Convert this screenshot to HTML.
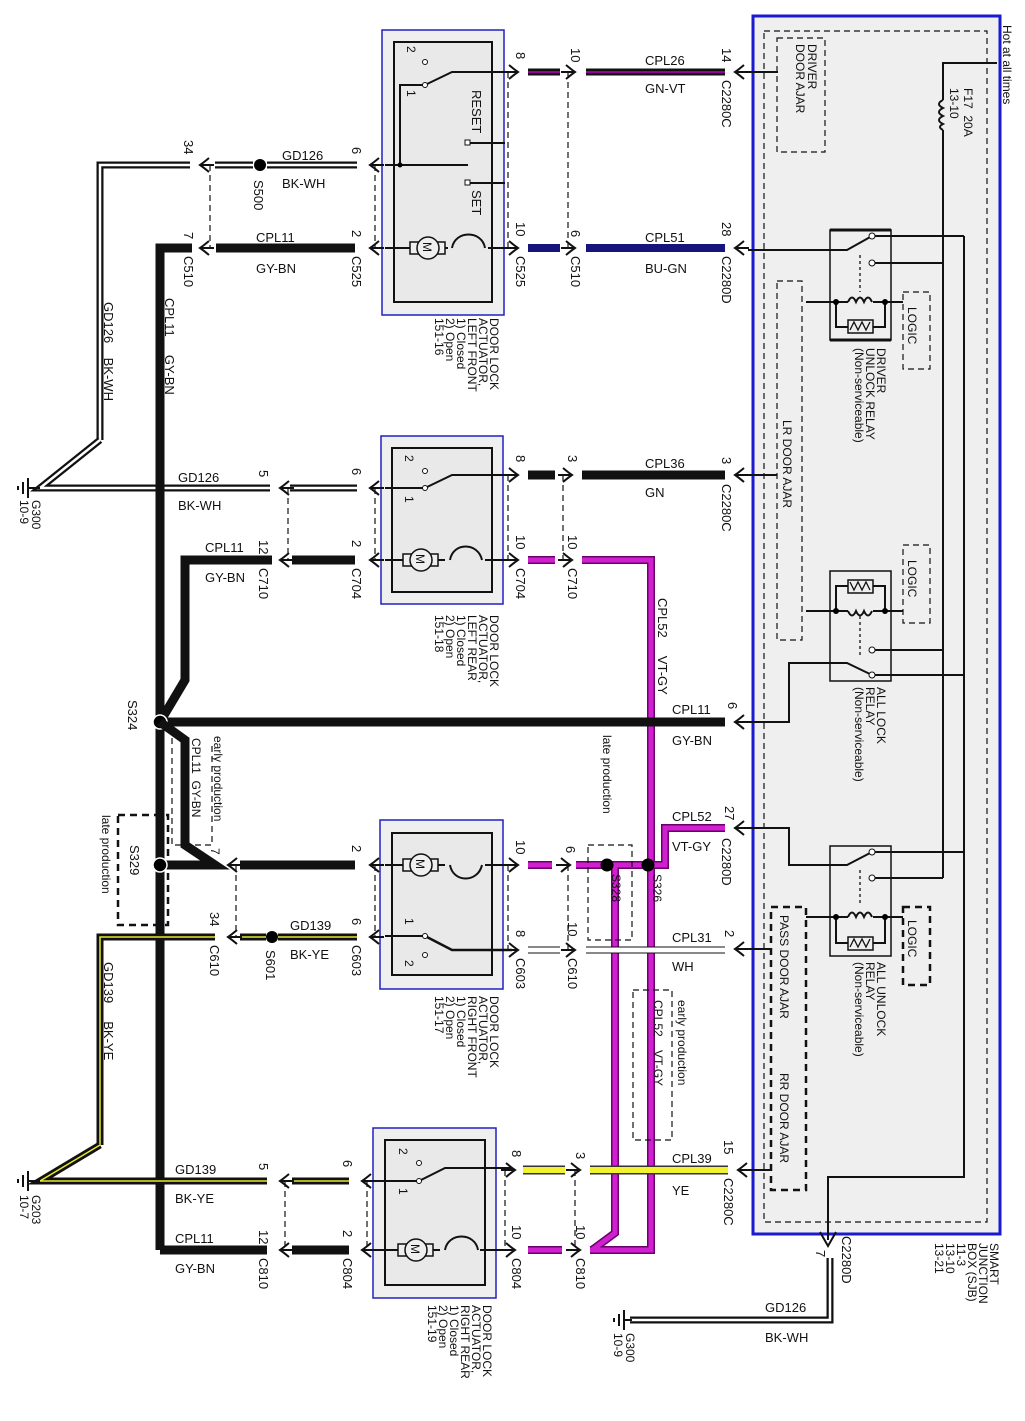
<!DOCTYPE html>
<html><head><meta charset="utf-8"><style>
html,body{margin:0;padding:0;background:#fff}
svg{display:block}
text{font-family:"Liberation Sans",Arial,sans-serif;font-size:13px;fill:#111}
.s{font-size:12px}
.t{fill:none;stroke:#111;stroke-width:2}
.tn{fill:none;stroke:#111;stroke-width:1.3}
.k{fill:none;stroke:#111;stroke-width:9}
.ko{fill:none;stroke:#111;stroke-width:7}
.wi{fill:none;stroke:#fff;stroke-width:2.5}
.yi{fill:none;stroke:#e8e830;stroke-width:1.5}
.mo{fill:none;stroke:#6a006a;stroke-width:8}
.mi{fill:none;stroke:#d020d0;stroke-width:5}
.bu{fill:none;stroke:#16167a;stroke-width:8}
.vi{fill:none;stroke:#c000c0;stroke-width:1.5}
.yo{fill:none;stroke:#333;stroke-width:9}
.yy{fill:none;stroke:#f2f230;stroke-width:6}
.wh{fill:none;stroke:#fff;stroke-width:5}
.d{fill:none;stroke:#111;stroke-width:1.2;stroke-dasharray:6 4}
.dd{fill:none;stroke:#111;stroke-width:2.5;stroke-dasharray:7 5}
</style></head><body>
<svg width="1025" height="1421" viewBox="0 0 1025 1421" xmlns="http://www.w3.org/2000/svg">
<defs>
<g id="L"><path d="M9,-7 Q3,-2 0,0 Q3,2 9,7 M0,0 H14" fill="none" stroke="#111" stroke-width="2"/></g>
<g id="R"><path d="M-9,-7 Q-3,-2 0,0 Q-3,2 -9,7 M0,0 H-14" fill="none" stroke="#111" stroke-width="2"/></g>
</defs>

<!-- SJB -->
<rect x="753" y="16" width="247" height="1218" fill="#efefef" stroke="#1a1ad0" stroke-width="3"/>
<rect x="764" y="31" width="223" height="1191" class="d"/>
<rect x="777" y="38" width="48" height="114" class="d" stroke-width="1.8"/>
<text class="s" transform="translate(808,44) rotate(90)"><tspan x="0" dy="0">DRIVER</tspan><tspan x="0" dy="12">DOOR AJAR</tspan></text>
<text class="s" transform="translate(1003,25) rotate(90)">Hot at all times</text>
<path class="t" d="M997,63 H943 V100 M943,130 V878"/>
<path class="t" d="M943,100 q-8,4 0,8 q-8,4 0,8 q-8,4 0,8 q-6,3 0,6"/>
<text class="s" transform="translate(964,88) rotate(90)">F17&#160;&#160;20A</text>
<text class="s" transform="translate(950,88) rotate(90)">13-10</text>
<path class="t" d="M964,236 V1177 H828 V1240"/>
<!-- driver unlock relay -->
<rect x="830" y="230" width="61" height="110" fill="none" stroke="#111" stroke-width="1.5"/>
<path d="M830,230 H891 M830,340 H891" stroke="#111" stroke-width="3"/>
<path class="t" d="M748,250 H847 L872,236 H964 M872,263 H943 M806,302 H903"/>
<path class="tn" d="M860,255 V292" stroke-dasharray="3 3"/>
<path class="t" d="M836,302 V327 H885 V302"/>
<rect x="848" y="296" width="25" height="10" fill="#efefef"/>
<path class="t" d="M848,302 q4,-9 8,0 q4,-9 8,0 q4,-9 8,0"/>
<rect x="848" y="320" width="25" height="13" fill="#efefef" stroke="#111" stroke-width="1.5"/>
<path class="tn" d="M850,330 l4,-8 l4,8 l4,-8 l4,8 l4,-8"/>
<circle cx="836" cy="302" r="3"/><circle cx="885" cy="302" r="3"/>
<circle cx="872" cy="236" r="3" fill="#fff" stroke="#111"/><circle cx="872" cy="263" r="3" fill="#fff" stroke="#111"/>
<rect x="903" y="292" width="27" height="77" class="d" stroke-width="1.8"/>
<text class="s" transform="translate(908,307) rotate(90)">LOGIC</text>
<text class="s" transform="translate(877,348) rotate(90)"><tspan x="0" dy="0">DRIVER</tspan><tspan x="0" dy="11">UNLOCK RELAY</tspan><tspan x="0" dy="11">(Non-serviceable)</tspan></text>
<!-- LR door ajar -->
<rect x="777" y="281" width="25" height="359" class="d" stroke-width="1.8"/>
<path class="t" d="M748,475 H777"/>
<text class="s" transform="translate(783,420) rotate(90)">LR DOOR AJAR</text>
<!-- all lock relay -->
<rect x="830" y="571" width="61" height="110" fill="none" stroke="#111" stroke-width="1.5"/>
<path class="t" d="M806,611 H903 M836,611 V586 H885 V611"/>
<rect x="848" y="606" width="25" height="10" fill="#efefef"/>
<path class="t" d="M848,611 q4,9 8,0 q4,9 8,0 q4,9 8,0"/>
<rect x="848" y="580" width="25" height="13" fill="#efefef" stroke="#111" stroke-width="1.5"/>
<path class="tn" d="M850,582 l4,8 l4,-8 l4,8 l4,-8 l4,8"/>
<circle cx="836" cy="611" r="3"/><circle cx="885" cy="611" r="3"/>
<path class="tn" d="M860,616 V655" stroke-dasharray="3 3"/>
<path class="t" d="M872,650 H943 M872,675 H964 M872,675 L847,663 H789 V722 H748"/>
<circle cx="872" cy="650" r="3" fill="#fff" stroke="#111"/><circle cx="872" cy="675" r="3" fill="#fff" stroke="#111"/>
<rect x="903" y="545" width="27" height="78" class="d" stroke-width="1.8"/>
<text class="s" transform="translate(908,560) rotate(90)">LOGIC</text>
<text class="s" transform="translate(877,687) rotate(90)"><tspan x="0" dy="0">ALL LOCK</tspan><tspan x="0" dy="11">RELAY</tspan><tspan x="0" dy="11">(Non-serviceable)</tspan></text>
<!-- all unlock relay -->
<rect x="830" y="846" width="61" height="110" fill="none" stroke="#111" stroke-width="1.5"/>
<path class="t" d="M748,828 H789 V865 H847 L872,852 H964 M872,878 H943 M806,917 H903 M836,917 V943 H885 V917"/>
<path class="tn" d="M860,870 V905" stroke-dasharray="3 3"/>
<rect x="848" y="912" width="25" height="10" fill="#efefef"/>
<path class="t" d="M848,917 q4,-9 8,0 q4,-9 8,0 q4,-9 8,0"/>
<rect x="848" y="937" width="25" height="13" fill="#efefef" stroke="#111" stroke-width="1.5"/>
<path class="tn" d="M850,947 l4,-8 l4,8 l4,-8 l4,8 l4,-8"/>
<circle cx="836" cy="917" r="3"/><circle cx="885" cy="917" r="3"/>
<circle cx="872" cy="852" r="3" fill="#fff" stroke="#111"/><circle cx="872" cy="878" r="3" fill="#fff" stroke="#111"/>
<rect x="903" y="907" width="27" height="78" class="dd"/>
<text class="s" transform="translate(908,920) rotate(90)">LOGIC</text>
<text class="s" transform="translate(877,962) rotate(90)"><tspan x="0" dy="0">ALL UNLOCK</tspan><tspan x="0" dy="11">RELAY</tspan><tspan x="0" dy="11">(Non-serviceable)</tspan></text>
<rect x="771" y="907" width="35" height="283" class="dd"/>
<path class="t" d="M748,949 H771 M748,1170 H771"/>
<text class="s" transform="translate(780,915) rotate(90)">PASS DOOR AJAR</text>
<text class="s" transform="translate(780,1073) rotate(90)">RR DOOR AJAR</text>
<text class="s" transform="translate(990,1243) rotate(90)"><tspan x="0" dy="0">SMART</tspan><tspan x="0" dy="11">JUNCTION</tspan><tspan x="0" dy="11">BOX (SJB)</tspan><tspan x="0" dy="11">11-3</tspan><tspan x="0" dy="11">13-10</tspan><tspan x="0" dy="11">13-21</tspan></text>

<!-- actuator boxes -->
<rect x="382" y="30" width="122" height="285" fill="#efefef" stroke="#2020c0" stroke-width="1.5"/>
<rect x="394" y="42" width="98" height="260" fill="#e9e9e9" stroke="#111" stroke-width="2"/>
<rect x="381" y="436" width="122" height="168" fill="#efefef" stroke="#2020c0" stroke-width="1.5"/>
<rect x="392" y="448" width="100" height="144" fill="#e9e9e9" stroke="#111" stroke-width="2"/>
<rect x="380" y="820" width="123" height="169" fill="#efefef" stroke="#2020c0" stroke-width="1.5"/>
<rect x="392" y="833" width="100" height="142" fill="#e9e9e9" stroke="#111" stroke-width="2"/>
<rect x="373" y="1128" width="123" height="170" fill="#efefef" stroke="#2020c0" stroke-width="1.5"/>
<rect x="385" y="1140" width="100" height="145" fill="#e9e9e9" stroke="#111" stroke-width="2"/>

<text class="s" transform="translate(490,318) rotate(90)"><tspan x="0" dy="0">DOOR LOCK</tspan><tspan x="0" dy="11">ACTUATOR,</tspan><tspan x="0" dy="11">LEFT FRONT</tspan><tspan x="0" dy="11">1) Closed</tspan><tspan x="0" dy="11">2) Open</tspan><tspan x="0" dy="11">151-16</tspan></text>
<text class="s" transform="translate(490,615) rotate(90)"><tspan x="0" dy="0">DOOR LOCK</tspan><tspan x="0" dy="11">ACTUATOR,</tspan><tspan x="0" dy="11">LEFT REAR</tspan><tspan x="0" dy="11">1) Closed</tspan><tspan x="0" dy="11">2) Open</tspan><tspan x="0" dy="11">151-18</tspan></text>
<text class="s" transform="translate(490,996) rotate(90)"><tspan x="0" dy="0">DOOR LOCK</tspan><tspan x="0" dy="11">ACTUATOR,</tspan><tspan x="0" dy="11">RIGHT FRONT</tspan><tspan x="0" dy="11">1) Closed</tspan><tspan x="0" dy="11">2) Open</tspan><tspan x="0" dy="11">151-17</tspan></text>
<text class="s" transform="translate(483,1305) rotate(90)"><tspan x="0" dy="0">DOOR LOCK</tspan><tspan x="0" dy="11">ACTUATOR,</tspan><tspan x="0" dy="11">RIGHT REAR</tspan><tspan x="0" dy="11">1) Closed</tspan><tspan x="0" dy="11">2) Open</tspan><tspan x="0" dy="11">151-19</tspan></text>

<!-- dashed connector pair lines -->
<path class="d" d="M210,165 V248 M375,165 V248 M508,72 V248 M568,72 V248 M288,488 V560 M375,488 V560 M508,475 V560 M563,475 V560 M236,865 V937 M375,865 V937 M508,865 V950 M568,865 V950 M285,1181 V1250 M367,1181 V1250 M505,1170 V1250 M575,1170 V1250"/>

<!-- ===== LF ===== -->
<path class="t" d="M425,85 H400 V165 M425,85 L452,72 H515 M468,143 H505 M468,183 H505 M385,165 H468 M385,248 H515"/>
<circle cx="425" cy="62" r="2.5" fill="#fff" stroke="#111"/><circle cx="425" cy="85" r="2.5" fill="#fff" stroke="#111"/>
<rect x="465" y="140" width="5" height="5" fill="#fff" stroke="#111"/><rect x="465" y="180" width="5" height="5" fill="#fff" stroke="#111"/>
<circle cx="400" cy="165" r="2.5"/>
<text class="s" transform="translate(407,46) rotate(90)">2</text>
<text class="s" transform="translate(407,90) rotate(90)">1</text>
<text transform="translate(472,90) rotate(90)">RESET</text>
<text transform="translate(472,190) rotate(90)">SET</text>
<rect x="410" y="242" width="35" height="12" fill="#efefef" stroke="#111" stroke-width="1.5"/>
<circle cx="428" cy="248" r="11" fill="#efefef" stroke="#111" stroke-width="1.5"/>
<text class="s" transform="translate(423,242) rotate(90)">M</text>
<rect x="448" y="238" width="40" height="12" fill="#e9e9e9"/>
<path class="t" d="M452,248 C455,230 482,230 485,248"/>
<!-- row B -->
<path class="ko" d="M100,440 V165 H190 M215,165 H253 M267,165 H357"/>
<path class="wi" d="M100,440 V165 H190 M215,165 H253 M267,165 H357"/>
<path class="ko" d="M100,440 L40,488 H270 M290,488 H357"/>
<path class="wi" d="M100,440 L40,488 H270 M290,488 H357"/>
<circle cx="260" cy="165" r="6"/>
<use href="#L" x="200" y="165"/><use href="#L" x="370" y="165"/>
<text x="282" y="160">GD126</text><text x="282" y="188">BK-WH</text>
<text transform="translate(254,180) rotate(90)">S500</text>
<text transform="translate(184,140) rotate(90)">34</text>
<text transform="translate(352,147) rotate(90)">6</text>
<text transform="translate(104,302) rotate(90)">GD126&#160;&#160;&#160;&#160;BK-WH</text>
<!-- row C -->
<path class="k" d="M160,1250 V248 H192 M216,248 H355"/>
<use href="#L" x="200" y="248"/><use href="#L" x="370" y="248"/>
<text x="256" y="242">CPL11</text><text x="256" y="273">GY-BN</text>
<text transform="translate(184,232) rotate(90)">7</text>
<text transform="translate(184,256) rotate(90)">C510</text>
<text transform="translate(352,230) rotate(90)">2</text>
<text transform="translate(352,256) rotate(90)">C525</text>
<text transform="translate(165,298) rotate(90)">CPL11&#160;&#160;&#160;&#160;&#160;GY-BN</text>
<!-- right side A -->
<use href="#R" x="518" y="72"/><use href="#R" x="575" y="72"/><use href="#L" x="735" y="72"/>
<path class="t" d="M740,72 H778"/>
<path class="ko" d="M528,72 H560 M586,72 H725" stroke-width="8"/><path class="vi" d="M528,72 H560 M586,72 H725"/>
<text transform="translate(516,52) rotate(90)">8</text>
<text transform="translate(571,48) rotate(90)">10</text>
<text x="645" y="65">CPL26</text><text x="645" y="93">GN-VT</text>
<text transform="translate(722,48) rotate(90)">14</text>
<text transform="translate(722,80) rotate(90)">C2280C</text>
<!-- right C -->
<use href="#R" x="518" y="248"/><use href="#R" x="575" y="248"/><use href="#L" x="735" y="248"/>
<path class="bu" d="M528,248 H560 M586,248 H725"/>
<text transform="translate(516,222) rotate(90)">10</text>
<text transform="translate(516,256) rotate(90)">C525</text>
<text transform="translate(571,230) rotate(90)">6</text>
<text transform="translate(571,256) rotate(90)">C510</text>
<text x="645" y="242">CPL51</text><text x="645" y="273">BU-GN</text>
<text transform="translate(722,222) rotate(90)">28</text>
<text transform="translate(722,256) rotate(90)">C2280D</text>

<!-- ===== LR ===== -->
<path class="t" d="M385,488 H425 L452,475 H512 M385,560 H512"/>
<circle cx="425" cy="471" r="2.5" fill="#fff" stroke="#111"/><circle cx="425" cy="488" r="2.5" fill="#fff" stroke="#111"/>
<text class="s" transform="translate(405,455) rotate(90)">2</text>
<text class="s" transform="translate(405,496) rotate(90)">1</text>
<rect x="403" y="554" width="35" height="12" fill="#efefef" stroke="#111" stroke-width="1.5"/>
<circle cx="421" cy="560" r="11" fill="#efefef" stroke="#111" stroke-width="1.5"/>
<text class="s" transform="translate(416,554) rotate(90)">M</text>
<rect x="445" y="550" width="40" height="12" fill="#e9e9e9"/>
<path class="t" d="M450,560 C453,542 478,542 482,560"/>
<use href="#L" x="280" y="488"/><use href="#L" x="370" y="488"/>
<text x="178" y="482">GD126</text><text x="178" y="510">BK-WH</text>
<text transform="translate(259,470) rotate(90)">5</text>
<text transform="translate(352,468) rotate(90)">6</text>
<path class="k" d="M160,722 L185,680 V560 H272 M292,560 H355"/>
<use href="#L" x="280" y="560"/><use href="#L" x="370" y="560"/>
<text x="205" y="552">CPL11</text><text x="205" y="582">GY-BN</text>
<text transform="translate(259,540) rotate(90)">12</text>
<text transform="translate(259,568) rotate(90)">C710</text>
<text transform="translate(352,540) rotate(90)">2</text>
<text transform="translate(352,568) rotate(90)">C704</text>
<!-- G300 -->
<path class="t" d="M28,478 V498 M23,482 V494 M18,486 V490 M28,488 H40"/>
<text class="s" transform="translate(32,500) rotate(90)">G300</text>
<text class="s" transform="translate(20,500) rotate(90)">10-9</text>
<!-- right D/E -->
<use href="#R" x="518" y="475"/><use href="#R" x="572" y="475"/><use href="#L" x="735" y="475"/>
<path class="k" d="M528,475 H555 M582,475 H725"/>
<text transform="translate(516,455) rotate(90)">8</text>
<text transform="translate(568,455) rotate(90)">3</text>
<text x="645" y="468">CPL36</text><text x="645" y="497">GN</text>
<text transform="translate(722,457) rotate(90)">3</text>
<text transform="translate(722,484) rotate(90)">C2280C</text>
<use href="#R" x="518" y="560"/><use href="#R" x="572" y="560"/>
<text transform="translate(516,535) rotate(90)">10</text>
<text transform="translate(516,568) rotate(90)">C704</text>
<text transform="translate(568,535) rotate(90)">10</text>
<text transform="translate(568,568) rotate(90)">C710</text>
<text transform="translate(658,598) rotate(90)">CPL52&#160;&#160;&#160;&#160;&#160;VT-GY</text>

<!-- magenta wires -->
<path class="mo" d="M528,560 H555 M582,560 H651 V1250 H590 M615,865 V1233 L592,1250 M528,865 H552 M576,865 H665 V828 H725 M528,1250 H562"/>
<path class="mi" d="M528,560 H555 M582,560 H651 V1250 H590 M615,865 V1233 L592,1250 M528,865 H552 M576,865 H665 V828 H725 M528,1250 H562"/>

<!-- row F -->
<path class="k" d="M160,722 H725"/>
<use href="#L" x="735" y="722"/>
<text x="672" y="714">CPL11</text><text x="672" y="745">GY-BN</text>
<text transform="translate(728,702) rotate(90)">6</text>
<circle cx="160" cy="722" r="7" stroke="#fff" stroke-width="1.5"/>
<text transform="translate(128,700) rotate(90)">S324</text>
<!-- early production branch -->
<path class="k" d="M160,722 L185,740 V845 L215,865 H160 M240,865 H355" stroke-width="8"/>
<path class="d" d="M172,738 V845 H212 V742" stroke-width="1.6"/>
<text class="s" transform="translate(214,736) rotate(90)">early production</text>
<text class="s" transform="translate(192,738) rotate(90)">CPL11&#160;&#160;GY-BN</text>
<text class="s" transform="translate(211,848) rotate(90)">7</text>
<rect x="118" y="815" width="50" height="110" class="dd" stroke-width="2"/>
<circle cx="160" cy="865" r="7" stroke="#fff" stroke-width="1.5"/>
<text transform="translate(130,845) rotate(90)">S329</text>
<text class="s" transform="translate(102,815) rotate(90)">late production</text>
<use href="#L" x="228" y="865"/><use href="#L" x="370" y="865"/>
<text transform="translate(352,845) rotate(90)">2</text>

<!-- RF -->
<path class="t" d="M385,865 H512 M385,936 H425"/>
<path d="M425,936 L452,950 H512" fill="none" stroke="#111" stroke-width="2.5"/>
<circle cx="425" cy="936" r="2.5" fill="#fff" stroke="#111"/><circle cx="425" cy="955" r="2.5" fill="#fff" stroke="#111"/>
<text class="s" transform="translate(405,918) rotate(90)">1</text>
<text class="s" transform="translate(405,960) rotate(90)">2</text>
<rect x="403" y="859" width="35" height="12" fill="#efefef" stroke="#111" stroke-width="1.5"/>
<circle cx="421" cy="865" r="11" fill="#efefef" stroke="#111" stroke-width="1.5"/>
<text class="s" transform="translate(416,859) rotate(90)">M</text>
<rect x="445" y="855" width="40" height="12" fill="#e9e9e9"/>
<path class="t" d="M450,865 C453,883 478,883 482,865"/>
<!-- row I -->
<path class="ko" d="M100,1145 V937 H215 M240,937 H266 M278,937 H357"/>
<path class="yi" d="M100,1145 V937 H215 M240,937 H266 M278,937 H357"/>
<circle cx="272" cy="937" r="6"/>
<use href="#L" x="228" y="937"/><use href="#L" x="370" y="937"/>
<text x="290" y="930">GD139</text><text x="290" y="959">BK-YE</text>
<text transform="translate(266,950) rotate(90)">S601</text>
<text transform="translate(210,912) rotate(90)">34</text>
<text transform="translate(210,945) rotate(90)">C610</text>
<text transform="translate(352,918) rotate(90)">6</text>
<text transform="translate(352,945) rotate(90)">C603</text>
<text transform="translate(104,962) rotate(90)">GD139&#160;&#160;&#160;&#160;&#160;BK-YE</text>
<!-- right H/I -->
<use href="#R" x="518" y="865"/><use href="#R" x="570" y="865"/>
<text transform="translate(516,840) rotate(90)">10</text>
<text transform="translate(566,846) rotate(90)">6</text>
<circle cx="607" cy="865" r="6.5"/><circle cx="648" cy="865" r="6.5"/>
<rect x="588" y="845" width="44" height="95" class="d" stroke-width="1.6"/>
<text class="s" transform="translate(612,874) rotate(90)">S328</text>
<text class="s" transform="translate(653,874) rotate(90)">S326</text>
<text class="s" transform="translate(603,735) rotate(90)">late production</text>
<text x="672" y="821">CPL52</text><text x="672" y="851">VT-GY</text>
<text transform="translate(725,806) rotate(90)">27</text>
<text transform="translate(722,838) rotate(90)">C2280D</text>
<use href="#L" x="735" y="828"/>
<path class="ko" d="M528,950 H560 M586,950 H725"/><path class="wh" d="M528,950 H560 M586,950 H725"/>
<use href="#R" x="518" y="950"/><use href="#R" x="575" y="950"/><use href="#L" x="735" y="949"/>
<text transform="translate(516,930) rotate(90)">8</text>
<text transform="translate(516,958) rotate(90)">C603</text>
<text transform="translate(568,922) rotate(90)">10</text>
<text transform="translate(568,958) rotate(90)">C610</text>
<text x="672" y="942">CPL31</text><text x="672" y="971">WH</text>
<text transform="translate(725,930) rotate(90)">2</text>
<rect x="633" y="990" width="39" height="150" class="d" stroke-width="1.6"/>
<text class="s" transform="translate(678,1000) rotate(90)">early production</text>
<text class="s" transform="translate(654,1000) rotate(90)">CPL52&#160;&#160;&#160;&#160;VT-GY</text>

<!-- RR -->
<path class="t" d="M370,1181 H419 L445,1168 H512 M370,1250 H512"/>
<circle cx="419" cy="1163" r="2.5" fill="#fff" stroke="#111"/><circle cx="419" cy="1181" r="2.5" fill="#fff" stroke="#111"/>
<text class="s" transform="translate(399,1148) rotate(90)">2</text>
<text class="s" transform="translate(399,1188) rotate(90)">1</text>
<rect x="398" y="1244" width="35" height="12" fill="#efefef" stroke="#111" stroke-width="1.5"/>
<circle cx="416" cy="1250" r="11" fill="#efefef" stroke="#111" stroke-width="1.5"/>
<text class="s" transform="translate(411,1244) rotate(90)">M</text>
<rect x="440" y="1240" width="40" height="12" fill="#e9e9e9"/>
<path class="t" d="M445,1250 C448,1232 475,1232 478,1250"/>
<path class="ko" d="M100,1145 L40,1181 H267 M292,1181 H349"/>
<path class="yi" d="M100,1145 L40,1181 H267 M292,1181 H349"/>
<path class="t" d="M28,1171 V1191 M23,1175 V1187 M18,1179 V1183 M28,1181 H40"/>
<text class="s" transform="translate(32,1195) rotate(90)">G203</text>
<text class="s" transform="translate(20,1195) rotate(90)">10-7</text>
<use href="#L" x="280" y="1181"/><use href="#L" x="362" y="1181"/>
<text x="175" y="1174">GD139</text><text x="175" y="1203">BK-YE</text>
<text transform="translate(259,1163) rotate(90)">5</text>
<text transform="translate(343,1160) rotate(90)">6</text>
<path class="k" d="M160,1250 H267 M292,1250 H349"/>
<use href="#L" x="280" y="1250"/><use href="#L" x="362" y="1250"/>
<text x="175" y="1243">CPL11</text><text x="175" y="1273">GY-BN</text>
<text transform="translate(259,1230) rotate(90)">12</text>
<text transform="translate(259,1258) rotate(90)">C810</text>
<text transform="translate(343,1230) rotate(90)">2</text>
<text transform="translate(343,1258) rotate(90)">C804</text>
<path class="yo" d="M523,1170 H565 M590,1170 H728"/><path class="yy" d="M523,1170 H565 M590,1170 H728"/>
<use href="#R" x="515" y="1170"/><use href="#R" x="580" y="1170"/><use href="#L" x="738" y="1170"/>
<path class="t" d="M745,1170 H755"/>
<text transform="translate(512,1150) rotate(90)">8</text>
<text transform="translate(576,1152) rotate(90)">3</text>
<text x="672" y="1163">CPL39</text><text x="672" y="1195">YE</text>
<text transform="translate(724,1140) rotate(90)">15</text>
<text transform="translate(724,1178) rotate(90)">C2280C</text>
<use href="#R" x="515" y="1250"/><use href="#R" x="580" y="1250"/>
<text transform="translate(512,1225) rotate(90)">10</text>
<text transform="translate(512,1258) rotate(90)">C804</text>
<text transform="translate(576,1225) rotate(90)">10</text>
<text transform="translate(576,1258) rotate(90)">C810</text>

<!-- bottom ground from SJB -->
<path d="M820,1232 L828,1246 L836,1232" fill="none" stroke="#111" stroke-width="2"/>
<text transform="translate(816,1250) rotate(90)">7</text>
<text transform="translate(842,1236) rotate(90)">C2280D</text>
<path class="ko" d="M830,1258 V1320 H630"/><path class="wi" d="M830,1258 V1320 H630"/>
<path class="t" d="M624,1310 V1330 M619,1314 V1326 M614,1318 V1322 M624,1320 H632"/>
<text x="765" y="1312">GD126</text><text x="765" y="1342">BK-WH</text>
<text class="s" transform="translate(626,1333) rotate(90)">G300</text>
<text class="s" transform="translate(614,1333) rotate(90)">10-9</text>
</svg>
</body></html>
